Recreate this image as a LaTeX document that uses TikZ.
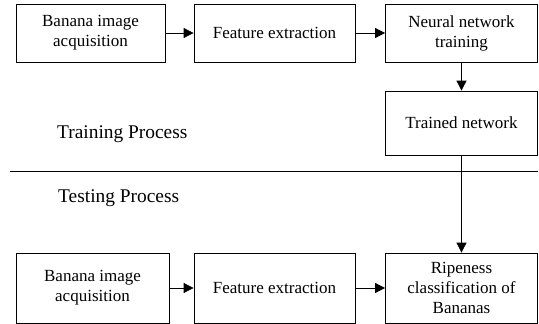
\documentclass[tikz,border=0pt]{standalone}
\usepackage{fontspec}
\setmainfont{Liberation Serif}
\usetikzlibrary{arrows.meta}
\begin{document}
\begin{tikzpicture}[x=1pt,y=-1pt,
  blk/.style={draw, line width=0.8pt, align=center, font=\fontsize{17}{20}\selectfont, inner sep=0pt},
  arr/.style={-{Triangle[length=10pt,width=10pt]}, line width=0.8pt},
  lbl/.style={font=\fontsize{19.4}{22}\selectfont, anchor=west, inner sep=0pt}]
\useasboundingbox (0,0) rectangle (539,324);
\node[blk, minimum width=149pt, minimum height=58pt] (a1) at (90.5,33) {Banana image\\acquisition};
\node[blk, minimum width=161pt, minimum height=58pt] (a2) at (274.5,33) {Feature extraction};
\node[blk, minimum width=152pt, minimum height=58pt] (a3) at (461.5,33) {Neural network\\training};
\node[blk, minimum width=152pt, minimum height=64pt] (a4) at (461.5,123) {Trained network};
\node[lbl] (t1) at (57,134) {Training Process};
\node[lbl] (t2) at (58,198) {Testing Process};
\coordinate (l1) at (10,171);
\coordinate (l2) at (538,171);
\draw[line width=0.9pt] (l1) -- (l2);
\node[blk, minimum width=153pt, minimum height=70pt] (b1) at (92.5,288) {Banana image\\acquisition};
\node[blk, minimum width=161pt, minimum height=70pt] (b2) at (274.5,288) {Feature extraction};
\node[blk, minimum width=152pt, minimum height=70pt] (b3) at (461.5,288) {Ripeness\\classification of\\Bananas};
\draw[arr] (a1) -- (a2);
\draw[arr] (a2) -- (a3);
\draw[arr] (a3) -- (a4);
\draw[arr] (a4) -- (b3);
\draw[arr] (b1) -- (b2);
\draw[arr] (b2) -- (b3);
\end{tikzpicture}
\end{document}
